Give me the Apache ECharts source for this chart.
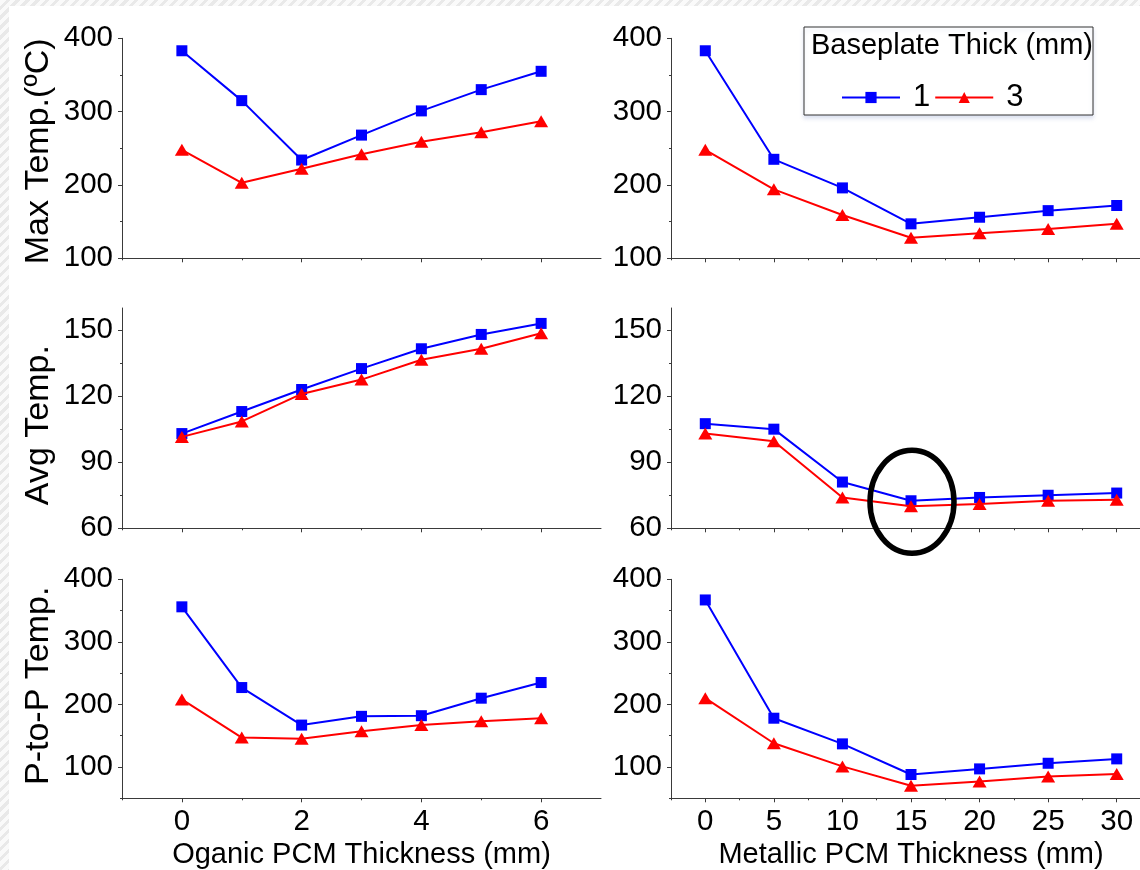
<!DOCTYPE html>
<html><head><meta charset="utf-8">
<script src="https://cdn.jsdelivr.net/npm/echarts@6/dist/echarts.min.js"></script>
<style>
html,body{margin:0;padding:0;width:1140px;height:870px;overflow:hidden;}
body{background:repeating-linear-gradient(-45deg,#e9e9e9 0 3px,#fafafa 3px 7px);}
#paper{position:absolute;left:9px;top:6px;right:0;bottom:0;background:#fff;}
#chart{position:absolute;left:0;top:0;width:1140px;height:870px;}
</style></head><body><div id="paper"></div><div id="chart"></div>
<script>
// ---------------- data ----------------
const organicX = [0, 1, 2, 3, 4, 5, 6];
const metallicX = [0, 5, 10, 15, 20, 25, 30];
const seriesNames = ['1', '3'];
const legendTitle = 'Baseplate Thick (mm)';

const maxOrganic1 = [383, 315, 234, 268, 301, 330, 355];
const maxOrganic3 = [248, 203, 222, 242, 259, 272, 287];
const maxMetallic1 = [383, 235, 196, 147, 156, 165, 172];
const maxMetallic3 = [248, 194, 159, 128, 134, 140, 147];

const avgOrganic1 = [103, 113, 123, 132.5, 141.5, 148, 153];
const avgOrganic3 = [101.5, 108.5, 121, 127.5, 136.5, 141.5, 148.5];
const avgMetallic1 = [107.5, 105, 81, 72.5, 74, 75, 76];
const avgMetallic3 = [103, 99.5, 74, 70, 71, 72.5, 73];

const ptpOrganic1 = [356, 227, 167, 181, 182, 210, 235];
const ptpOrganic3 = [208, 147, 145, 157, 167, 173, 178];
const ptpMetallic1 = [367, 178, 137, 88, 97, 106, 113];
const ptpMetallic3 = [210, 138, 101, 70, 77, 85, 89];

const yTitles = ['Max Temp.(ºC)', 'Avg Temp.', 'P-to-P Temp.'];
const xTitles = ['Oganic PCM Thickness (mm)', 'Metallic PCM Thickness (mm)'];

const yRanges = [[100, 400], [60, 160], [50, 400]];
const yMajorTicks = [[100, 200, 300, 400], [60, 90, 120, 150], [100, 200, 300, 400]];
const yMinorTicks = [[150, 250, 350], [75, 105, 135], [50, 150, 250, 350]];
const xRanges = [[-1, 7], [-2.5, 32.5]];
const xMajorTicks = [[0, 2, 4, 6], [0, 5, 10, 15, 20, 25, 30]];
const xMinorTicks = [[-1, 1, 3, 5], [-2.5, 2.5, 7.5, 12.5, 17.5, 22.5, 27.5]];

const highlightPoint = [15, 72];   // circled point (Avg, metallic)

// ---------------- layout / style ----------------
const FONT = '"Liberation Sans", Arial, sans-serif';
const AXIS = '#3a3a3a';
const BLUE = '#0000ff', RED = '#ff0000';
const colLeft = [122, 671], colWidth = [479, 480];
const rowTop = [38.3, 308, 579.3], rowHeight = [220, 220.3, 219];
const yNamePad = [[0, 6, 0, 0], [0, 14, 0, 0], [0, 0, 0, 6]];

const panelXs = [organicX, metallicX];
const panelData = [
  [[maxOrganic1, maxOrganic3], [maxMetallic1, maxMetallic3]],
  [[avgOrganic1, avgOrganic3], [avgMetallic1, avgMetallic3]],
  [[ptpOrganic1, ptpOrganic3], [ptpMetallic1, ptpMetallic3]]
];

const grids = [], xAxes = [], yAxes = [], series = [];
const minorGrids = [], minorX = [], minorY = [];
for (let r = 0; r < 3; r++) {
  for (let c = 0; c < 2; c++) {
    const i = r * 2 + c;
    const rect = {left: colLeft[c], top: rowTop[r], width: colWidth[c], height: rowHeight[r],
      containLabel: false, outerBoundsMode: 'none'};
    grids.push(Object.assign({}, rect));
    minorGrids.push(Object.assign({}, rect));
    const xMain = {
      type: 'value', gridIndex: i, min: xRanges[c][0], max: xRanges[c][1], position: 'bottom',
      axisLine: {show: true, onZero: false, lineStyle: {color: AXIS, width: 1}},
      axisTick: {show: true, length: 4, customValues: xMajorTicks[c], lineStyle: {color: AXIS}},
      axisLabel: {show: r === 2, customValues: xMajorTicks[c], margin: 9, fontSize: 29.5, color: '#000', fontFamily: FONT},
      splitLine: {show: false}
    };
    if (r === 2) {
      Object.assign(xMain, {name: xTitles[c], nameLocation: 'middle', nameGap: 42,
        nameTextStyle: {fontSize: 29, color: '#000', fontFamily: FONT}});
    }
    xAxes.push(xMain);
    minorX.push({
      type: 'value', gridIndex: 6 + i, min: xRanges[c][0], max: xRanges[c][1], position: 'bottom',
      axisLine: {show: false, onZero: false}, axisLabel: {show: false}, splitLine: {show: false},
      axisTick: {show: true, length: 2, customValues: xMinorTicks[c], lineStyle: {color: AXIS}}
    });
    const yMain = {
      type: 'value', gridIndex: i, min: yRanges[r][0], max: yRanges[r][1], position: 'left',
      axisLine: {show: true, onZero: false, lineStyle: {color: AXIS, width: 1}},
      axisTick: {show: true, length: 4, customValues: yMajorTicks[r], lineStyle: {color: AXIS}},
      axisLabel: {show: true, customValues: yMajorTicks[r], margin: 9, fontSize: 29.5, color: '#000', fontFamily: FONT},
      splitLine: {show: false}
    };
    if (c === 0) {
      Object.assign(yMain, {name: yTitles[r], nameLocation: 'middle', nameGap: 66,
        nameTextStyle: {fontSize: 34, color: '#000', fontFamily: FONT, padding: yNamePad[r]}});
    }
    yAxes.push(yMain);
    minorY.push({
      type: 'value', gridIndex: 6 + i, min: yRanges[r][0], max: yRanges[r][1], position: 'left',
      axisLine: {show: false, onZero: false}, axisLabel: {show: false}, splitLine: {show: false},
      axisTick: {show: true, length: 2, customValues: yMinorTicks[r], lineStyle: {color: AXIS}}
    });
    const xs = panelXs[c];
    const [v1, v3] = panelData[r][c];
    series.push({
      type: 'line', name: seriesNames[0], xAxisIndex: i, yAxisIndex: i,
      data: xs.map((x, k) => [x, v1[k]]), symbol: 'rect', symbolSize: 11, showAllSymbol: true,
      lineStyle: {color: BLUE, width: 2}, itemStyle: {color: BLUE}, z: 3, animation: false, silent: true
    });
    series.push({
      type: 'line', name: seriesNames[1], xAxisIndex: i, yAxisIndex: i,
      data: xs.map((x, k) => [x, v3[k]]), symbol: 'triangle', symbolSize: [14, 12], showAllSymbol: true,
      lineStyle: {color: RED, width: 2}, itemStyle: {color: RED}, z: 4, animation: false, silent: true
    });
  }
}

const legendBox = {type: 'rect', z: 5, shape: {x: 804, y: 27, width: 289, height: 88},
  style: {fill: '#fff', stroke: '#333', lineWidth: 1, shadowBlur: 4, shadowColor: 'rgba(120,140,200,0.25)', shadowOffsetY: 3}};
const legendHead = {type: 'text', z: 6, left: 811, top: 31,
  style: {text: legendTitle, fill: '#000', font: '29px ' + FONT}};

const chart = echarts.init(document.getElementById('chart'), null, {renderer: 'canvas'});
chart.setOption({
  backgroundColor: 'transparent',
  animation: false,
  textStyle: {fontFamily: FONT},
  grid: grids.concat(minorGrids), xAxis: xAxes.concat(minorX), yAxis: yAxes.concat(minorY), series: series,
  legend: {
    data: seriesNames, left: 841, top: 82, padding: 0, itemWidth: 58, itemHeight: 14, itemGap: 4,
    selectedMode: false, z: 10,
    textStyle: {fontSize: 31, color: '#000', fontFamily: FONT, padding: [0, 0, 0, 8]}
  },
  graphic: [legendBox, legendHead]
});

const hp = chart.convertToPixel({seriesIndex: 6}, highlightPoint);
chart.setOption({
  graphic: [legendBox, legendHead,
    {type: 'ellipse', z: 20, shape: {cx: hp[0] + 1, cy: hp[1], rx: 42, ry: 51.5},
     style: {fill: 'none', stroke: '#000', lineWidth: 5.5}}
  ]
}, {replaceMerge: ['graphic']});
</script></body></html>
